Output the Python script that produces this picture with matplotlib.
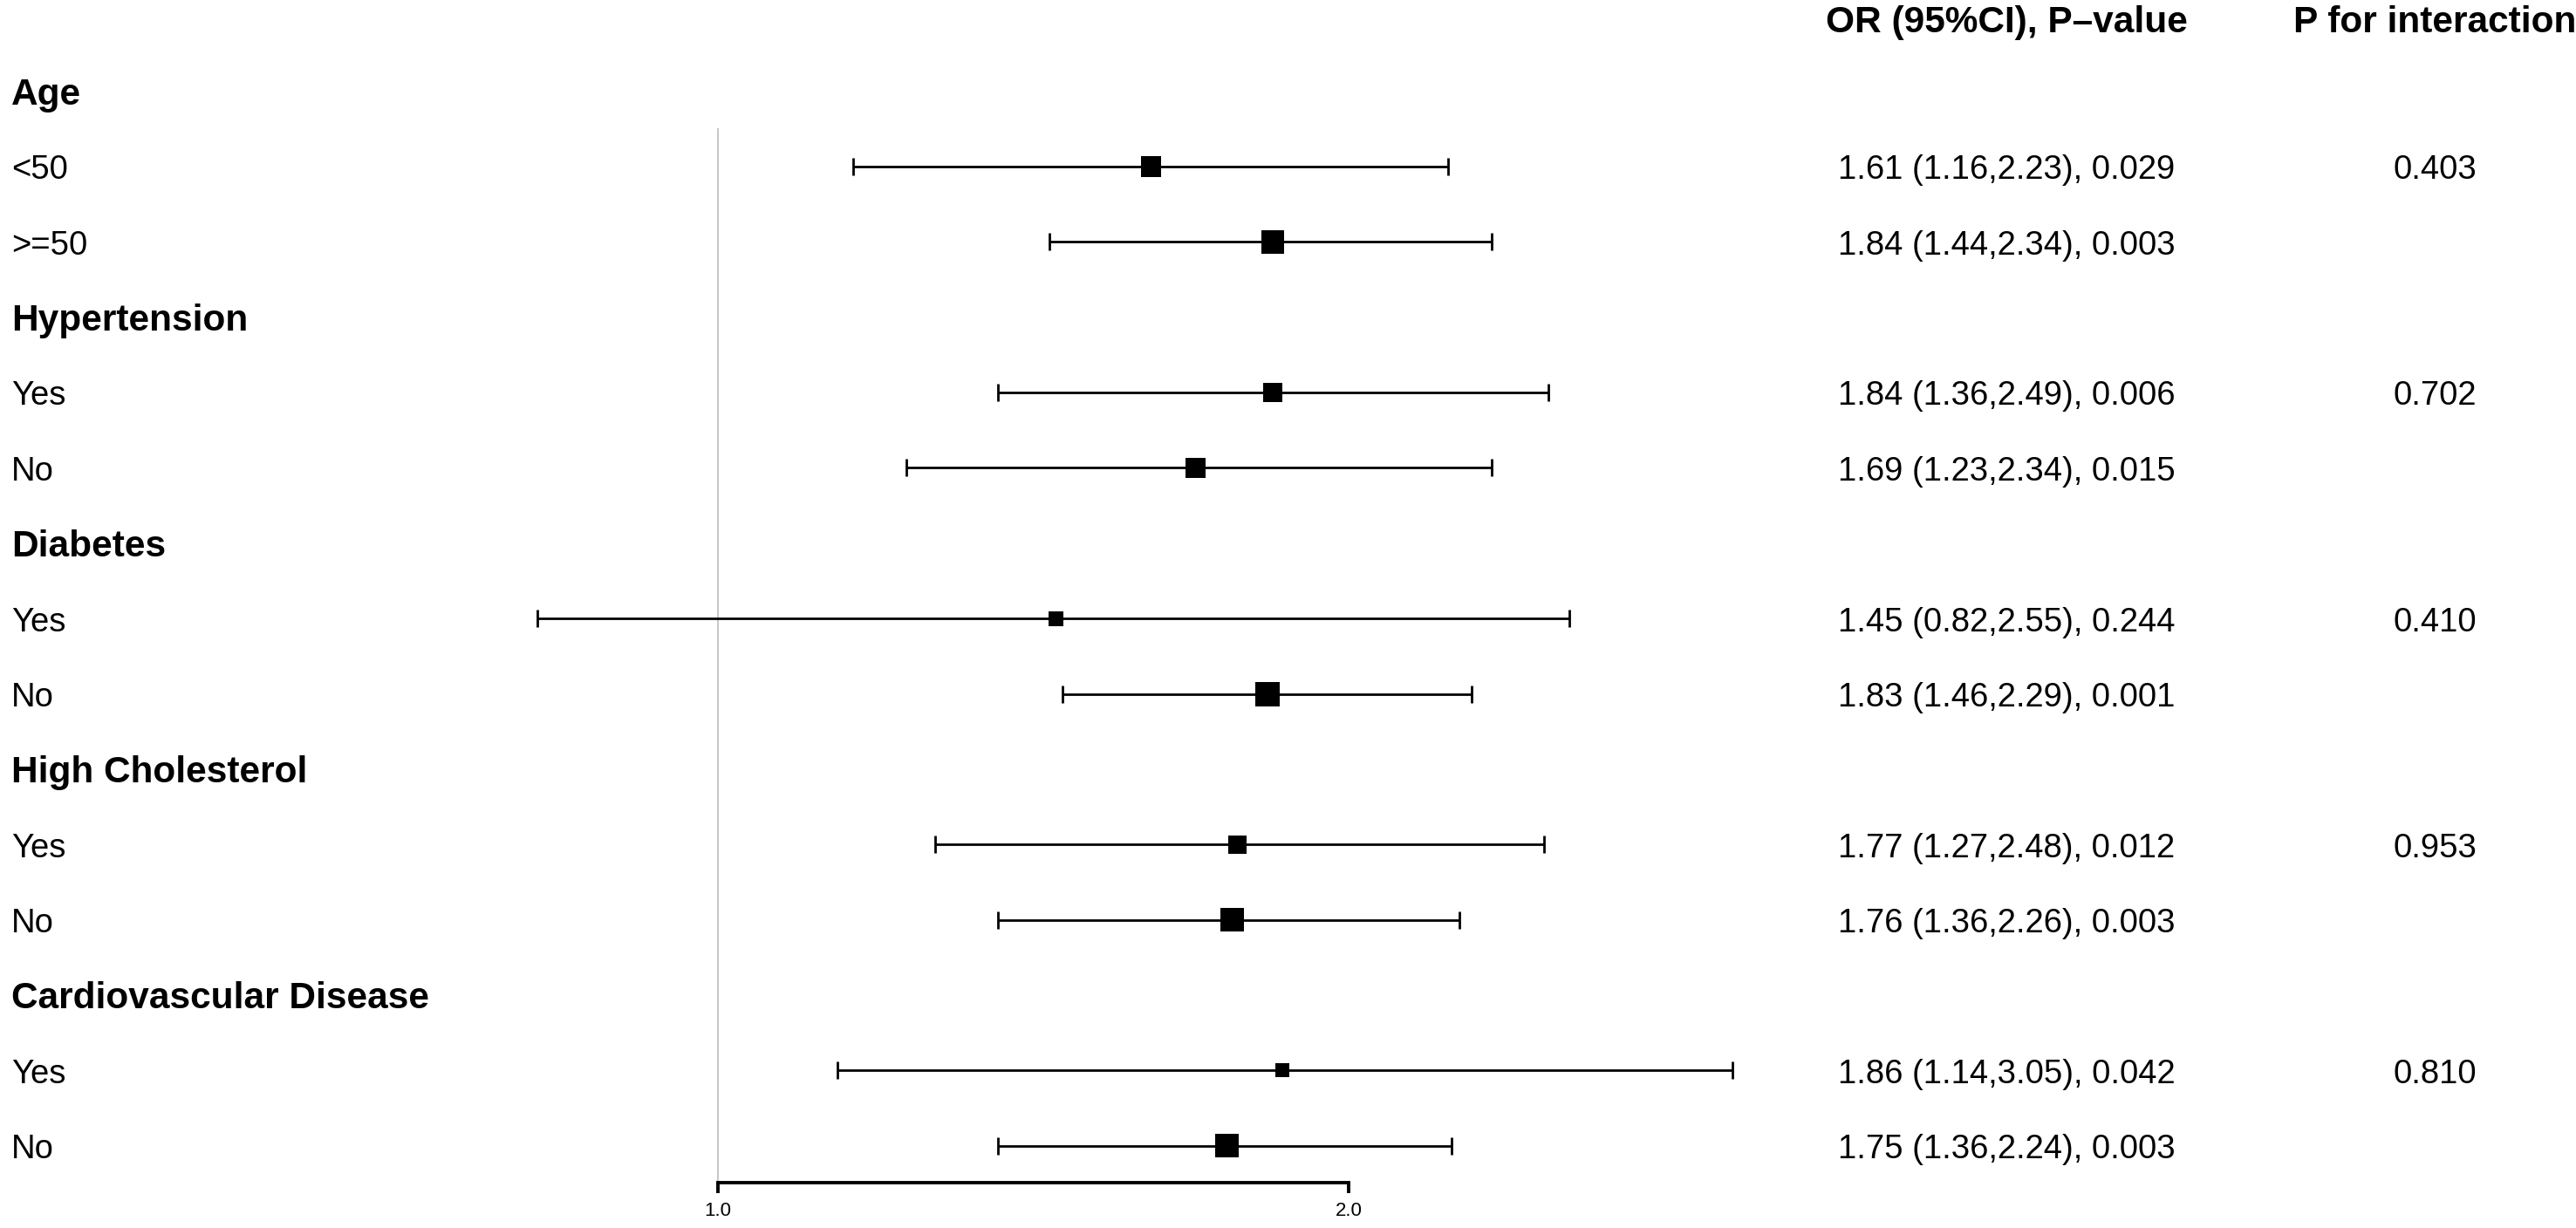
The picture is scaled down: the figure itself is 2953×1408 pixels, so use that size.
#!/usr/bin/env python3
"""Subgroup forest plot: OR (95%CI) with P for interaction -> out.png"""
import matplotlib
matplotlib.use("Agg")
import matplotlib.pyplot as plt
import matplotlib.transforms as mtransforms
import numpy as np

groups = ["Age", "Hypertension", "Diabetes", "High Cholesterol", "Cardiovascular Disease"]
subgroups = [["<50", ">=50"], ["Yes", "No"], ["Yes", "No"], ["Yes", "No"], ["Yes", "No"]]
or_vals = [1.61, 1.84, 1.84, 1.69, 1.45, 1.83, 1.77, 1.76, 1.86, 1.75]
ci_low = [1.16, 1.44, 1.36, 1.23, 0.82, 1.46, 1.27, 1.36, 1.14, 1.36]
ci_high = [2.23, 2.34, 2.49, 2.34, 2.55, 2.29, 2.48, 2.26, 3.05, 2.24]
p_values = ["0.029", "0.003", "0.006", "0.015", "0.244", "0.001", "0.012", "0.003", "0.042", "0.003"]
p_interaction = ["0.403", "0.702", "0.410", "0.953", "0.810"]
x_ticks = [1.0, 2.0]
x_ticklabels = ["1.0", "2.0"]

W, H, DPI = 2953, 1408, 100
FONT = ["Liberation Sans", "DejaVu Sans"]
TXT_DY = 0.05  # text sits a touch lower than va="center" puts it


def main():
    plt.rcParams["font.family"] = FONT
    fig = plt.figure(figsize=(W / DPI, H / DPI), dpi=DPI)
    fig.patch.set_facecolor("white")

    # forest panel: 1.0 at x=823px, 2.0 at x=1546px, rows 86.4px apart
    top_px, bot_px = 147, 1356
    ax = fig.add_axes([0, 1 - bot_px / H, 1, (bot_px - top_px) / H])
    ax.set_xscale("log", base=2)
    unit = 723.0
    ax.set_xlim(2 ** (-823 / unit), 2 ** ((W - 823) / unit))
    ax.set_ylim(15.49, 1.49)
    ax.patch.set_alpha(0)

    # row layout: group header then its subgroups
    rows_y, label_rows = [], []
    r = 1
    for g, subs in zip(groups, subgroups):
        label_rows.append((r, g, True))
        r += 1
        for s in subs:
            label_rows.append((r, s, False))
            rows_y.append(r)
            r += 1
    rows_y = np.array(rows_y)

    est = np.array(or_vals)
    lo = np.array(ci_low)
    hi = np.array(ci_high)

    ax.axvline(1.0, color="#c8c8c8", lw=1.5, zorder=1)
    ax.errorbar(est, rows_y, xerr=[est - lo, hi - est], fmt="none",
                ecolor="black", elinewidth=2.0, capsize=7.2, capthick=2.0, zorder=2)

    # box size follows precision, forestplot-style
    info = 1 / (hi - lo)
    info = info / info.max()
    side_px = 6.8 + 21.2 * info
    side_pt = side_px * 72 / DPI
    ax.scatter(est, rows_y, s=side_pt ** 2, marker="s", color="black", linewidths=0, zorder=3)

    for name in ["top", "right", "left"]:
        ax.spines[name].set_visible(False)
    ax.spines["bottom"].set_bounds(x_ticks[0], x_ticks[-1])
    ax.spines["bottom"].set_linewidth(2.8)
    ax.set_xticks(x_ticks)
    ax.set_xticklabels(x_ticklabels)
    ax.xaxis.set_minor_locator(matplotlib.ticker.NullLocator())
    ax.tick_params(axis="x", direction="out", length=8.6, width=2.8, labelsize=16, pad=7)
    ax.set_yticks([])

    trans = mtransforms.blended_transform_factory(fig.transFigure, ax.transData)
    x_lab = 13 / W
    x_or = 2300 / W
    x_pint = 2791 / W

    for row, text, bold in label_rows:
        ax.text(x_lab, row + TXT_DY, text, transform=trans, ha="left", va="center",
                fontsize=30.5 if bold else 27.5, fontweight="bold" if bold else "normal",
                clip_on=False)

    ax.text(x_or, 0.04 + TXT_DY, "OR (95%CI), P\u2013value", transform=trans, ha="center",
            va="center", fontsize=30.5, fontweight="bold", clip_on=False)
    ax.text(x_pint, 0.04 + TXT_DY, "P for interaction", transform=trans, ha="center",
            va="center", fontsize=30.5, fontweight="bold", clip_on=False)

    for y, e, l, h, p in zip(rows_y, or_vals, ci_low, ci_high, p_values):
        ax.text(x_or, y + TXT_DY, f"{e:.2f} ({l:.2f},{h:.2f}), {p}", transform=trans,
                ha="center", va="center", fontsize=27.5, clip_on=False)

    first_rows = rows_y[::2]
    for y, p in zip(first_rows, p_interaction):
        ax.text(x_pint, y + TXT_DY, p, transform=trans, ha="center", va="center",
                fontsize=27.5, clip_on=False)

    fig.savefig("out.png", dpi=DPI, facecolor=fig.get_facecolor())


if __name__ == "__main__":
    main()
